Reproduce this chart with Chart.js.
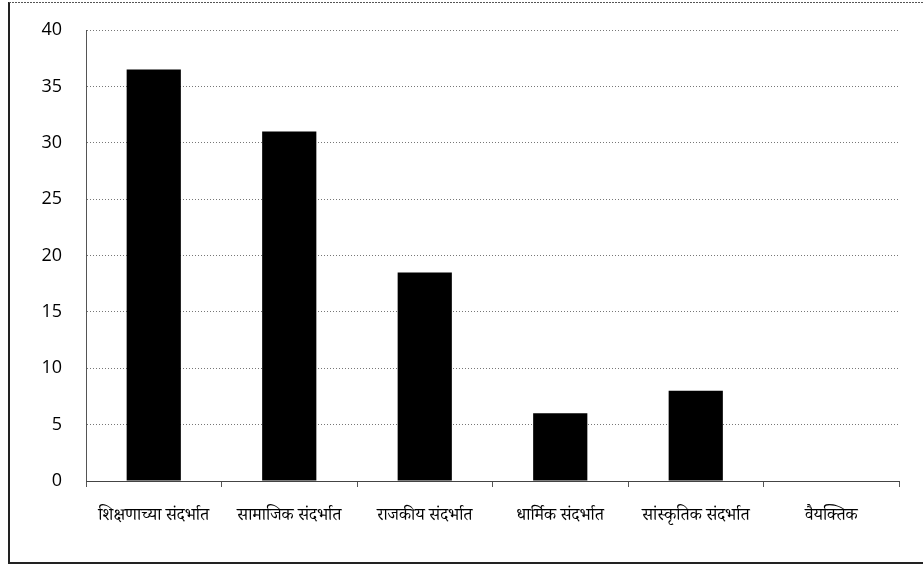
<!DOCTYPE html>
<html>
<head>
<meta charset="utf-8">
<script src="https://cdn.jsdelivr.net/npm/chart.js@4/dist/chart.umd.min.js"></script>
<style>
  html, body { margin: 0; padding: 0; background: #fff; }
  #wrap { width: 923px; height: 565px; position: relative; }
</style>
</head>
<body>
<div id="wrap"><canvas id="chart"></canvas></div>
<script>
// categories and values
const categories = [
  'शिक्षणाच्या संदर्भात',
  'सामाजिक संदर्भात',
  'राजकीय संदर्भात',
  'धार्मिक संदर्भात',
  'सांस्कृतिक संदर्भात',
  'वैयक्तिक'
]
const values = [36.5, 31, 18.5, 6, 8, 0]
const yTicks = [0, 5, 10, 15, 20, 25, 30, 35, 40]

// outer frame like the scanned box
const framePlugin = {
  id: 'frame',
  beforeDraw(chart) {
    const ctx = chart.ctx
    ctx.save()
    ctx.strokeStyle = '#222'
    ctx.lineWidth = 2
    ctx.beginPath()
    ctx.moveTo(9, 2)
    ctx.lineTo(9, 563)
    ctx.lineTo(923, 563)
    ctx.stroke()
    ctx.lineWidth = 1
    ctx.strokeStyle = '#555'
    ctx.setLineDash([2, 1])
    ctx.beginPath()
    ctx.moveTo(9, 2.5)
    ctx.lineTo(923, 2.5)
    ctx.stroke()
    ctx.restore()
  }
}

new Chart(document.getElementById('chart'), {
  type: 'bar',
  data: {
    labels: categories,
    datasets: [{
      data: values,
      backgroundColor: '#000',
      borderWidth: 0,
      categoryPercentage: 1,
      barPercentage: 0.4
    }]
  },
  options: {
    responsive: true,
    maintainAspectRatio: false,
    animation: false,
    layout: { padding: { top: 30, right: 24, bottom: 0, left: 0 } },
    plugins: { legend: { display: false }, tooltip: { enabled: false } },
    scales: {
      y: {
        min: 0,
        max: 40,
        afterBuildTicks: (scale) => { scale.ticks = yTicks.map(v => ({ value: v })) },
        afterFit: (scale) => { scale.width = 86; scale.paddingTop = 0 },
        ticks: {
          color: '#000',
          padding: 24,
          font: { family: 'Open Sans, Liberation Sans, sans-serif', size: 18 }
        },
        grid: {
          color: '#777',
          lineWidth: 1,
          drawTicks: false
        },
        border: { display: true, color: '#555', dash: [1, 2] }
      },
      x: {
        afterFit: (scale) => { scale.height = 84 },
        ticks: {
          color: '#000',
          padding: 21,
          maxRotation: 0,
          autoSkip: false,
          font: { family: 'Noto Serif Devanagari, Noto Sans Devanagari, serif', size: 17 }
        },
        grid: {
          offset: true,
          drawOnChartArea: false,
          drawTicks: true,
          tickLength: 6,
          color: '#555'
        },
        border: { display: true, color: '#444', dash: [2, 1] }
      }
    }
  },
  plugins: [framePlugin]
})
</script>
</body>
</html>
